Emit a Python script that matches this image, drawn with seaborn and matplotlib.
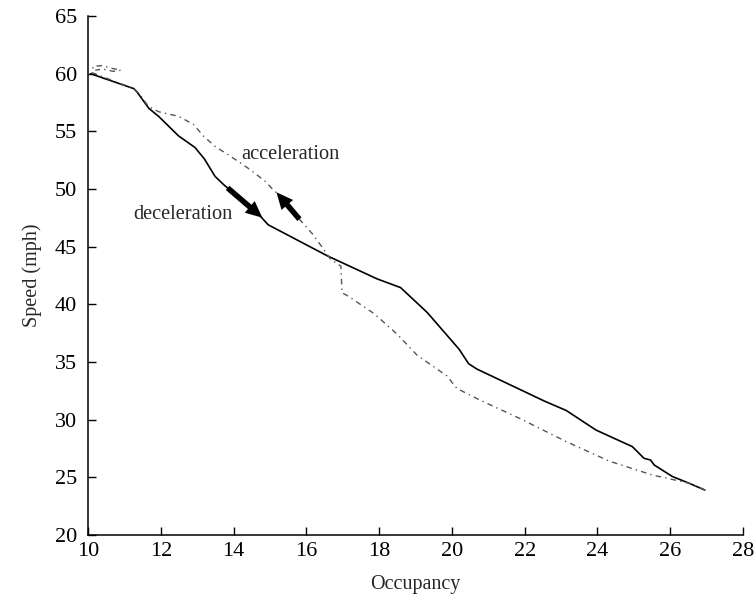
import matplotlib
matplotlib.use("Agg")
import matplotlib.pyplot as plt
import seaborn as sns
import pandas as pd

# Deceleration branch (occupancy, speed)
dec_occ = [10.07, 11.26, 11.35, 11.67, 11.94, 12.49, 12.94, 13.2, 13.49, 13.72, 14.2, 14.72,
           14.95, 16.58, 17.95, 18.59, 19.32, 20.2, 20.46, 20.68, 22.55, 23.14, 23.96,
           24.96, 25.28, 25.46, 25.56, 26.06, 26.51, 26.95]
dec_spd = [60.0, 58.7, 58.4, 57.0, 56.3, 54.6, 53.6, 52.6, 51.1, 50.4, 49.1, 47.7,
           46.9, 44.2, 42.2, 41.45, 39.3, 36.1, 34.85, 34.4, 31.6, 30.8, 29.1,
           27.66, 26.65, 26.5, 26.07, 25.07, 24.5, 23.9]

# Acceleration branch (occupancy, speed)
acc_occ = [26.95, 26.51, 25.51, 24.33, 23.14, 21.87, 20.77, 20.14, 19.86, 19.04, 18.5,
           17.86, 17.13, 16.98, 16.95, 16.67, 16.4, 16.17, 15.86, 15.17, 15.04, 14.86,
           14.4, 14.03, 13.49, 13.17, 12.9, 12.49, 11.94, 11.65, 11.4, 11.26, 10.1,
           10.15, 10.4, 10.6, 10.9, 10.7, 10.4, 10.2]
acc_spd = [23.9, 24.5, 25.2, 26.4, 28.1, 30.1, 31.7, 32.7, 33.8, 35.6, 37.4,
           39.2, 40.75, 41.0, 43.3, 43.9, 45.1, 46.1, 47.2, 49.7, 50.1, 50.7,
           51.8, 52.6, 53.7, 54.6, 55.6, 56.3, 56.7, 57.2, 58.3, 58.7, 60.1,
           60.65, 60.7, 60.5, 60.3, 60.2, 60.4, 60.3]

x_ticks = [10, 12, 14, 16, 18, 20, 22, 24, 26, 28]
y_ticks = [20, 25, 30, 35, 40, 45, 50, 55, 60, 65]

sns.set_style("ticks")
plt.rcParams['font.family'] = ['Liberation Serif', 'DejaVu Serif']

fig = plt.figure(figsize=(7.54, 5.99), dpi=100)
ax = fig.add_axes([88 / 754, 1 - 535 / 599, (743 - 88) / 754, (535 - 16) / 599])

dec_df = pd.DataFrame({"Occupancy": dec_occ, "Speed": dec_spd})
acc_df = pd.DataFrame({"Occupancy": acc_occ, "Speed": acc_spd})

sns.lineplot(data=dec_df, x="Occupancy", y="Speed", sort=False, ax=ax,
             color="black", linewidth=1.2, estimator=None)
sns.lineplot(data=acc_df, x="Occupancy", y="Speed", sort=False, ax=ax,
             color="#555555", linewidth=1.0, estimator=None,
             linestyle=(0, (4, 3, 1, 3)))

ax.set_xlim(10, 28)
ax.set_ylim(20, 65)
ax.set_xticks(x_ticks)
ax.set_yticks(y_ticks)
ax.tick_params(direction="in", length=6, width=1, labelsize=16, colors="black")
ax.tick_params(axis="x", pad=5)
ax.tick_params(axis="y", pad=8)
for s in ["top", "right"]:
    ax.spines[s].set_visible(False)
for s in ["left", "bottom"]:
    ax.spines[s].set_linewidth(1.1)
    ax.spines[s].set_color("black")

ax.set_xlabel("Occupancy", fontsize=14.5, labelpad=10)
ax.set_ylabel("Speed (mph)", fontsize=14.5, labelpad=9)

ax.text(15.55, 53.0, "acceleration", fontsize=14.7, ha="center", va="center")
ax.text(12.62, 47.8, "deceleration", fontsize=14.7, ha="center", va="center")

arrow_kw = dict(arrowstyle="simple,head_length=1.2,head_width=1.1,tail_width=0.4",
                color="black", lw=0)
ax.annotate("", xy=(14.85, 47.35), xytext=(13.78, 50.25), arrowprops=arrow_kw)
ax.annotate("", xy=(15.13, 49.9), xytext=(15.86, 47.2), arrowprops=arrow_kw)

fig.savefig("out.png", dpi=100)
